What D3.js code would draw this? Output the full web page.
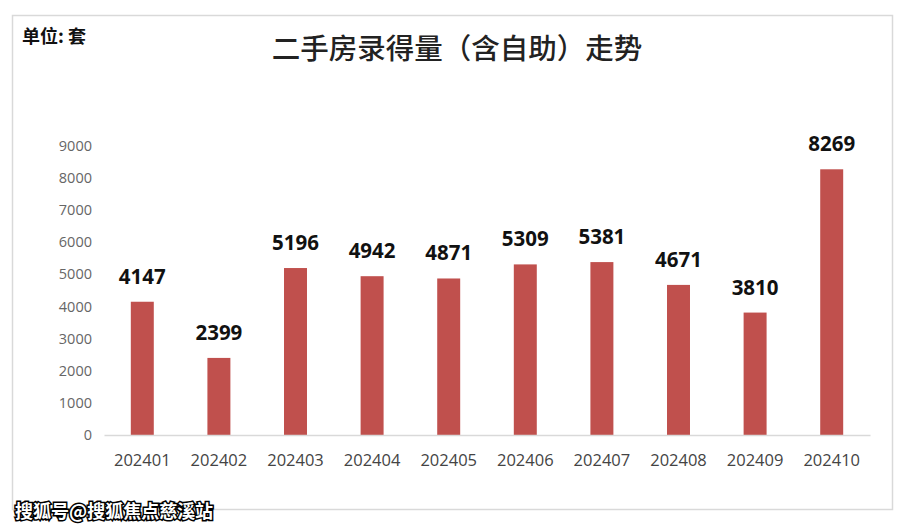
<!DOCTYPE html>
<html><head><meta charset="utf-8">
<script src="https://cdn.jsdelivr.net/npm/d3@7"></script>
<style>body{margin:0;background:#fff;}svg{display:block;}</style>
</head><body>
<svg id="c" width="909" height="529"></svg>
<script>
const categories = ["202401","202402","202403","202404","202405","202406","202407","202408","202409","202410"];
const values = [4147,2399,5196,4942,4871,5309,5381,4671,3810,8269];
const yTicks = [0,1000,2000,3000,4000,5000,6000,7000,8000,9000];
const titleText = "二手房录得量（含自助）走势";
const unitText = "单位: 套";
const watermark = "搜狐号@搜狐焦点慈溪站";

const svg = d3.select("#c");
svg.append("rect").attr("x",12.5).attr("y",15.5).attr("width",880).attr("height",494)
  .attr("fill","#fff").attr("stroke","#d9d9d9").attr("stroke-width",1.5);

const x = d3.scaleBand().domain(categories).range([104,870]).paddingInner(0.7).paddingOuter(0.35);
const y = d3.scaleLinear().domain([0,9000]).range([435,145.8]);

svg.append("text").attr("x",457).attr("y",59).attr("text-anchor","middle")
  .attr("font-family","Noto Sans CJK SC").attr("font-weight",500).attr("font-size",28.5).attr("fill","#222").text(titleText);
svg.append("text").attr("x",22).attr("y",43)
  .attr("font-family","Noto Sans CJK SC").attr("font-weight","bold").attr("font-size",18).attr("fill","#111").text(unitText);

// y axis
const ya = svg.append("g").attr("transform","translate(92,0)")
  .call(d3.axisLeft(y).tickValues(yTicks).tickFormat(d3.format("d")).tickSize(0).tickPadding(0));
ya.select(".domain").remove();
ya.selectAll("text").attr("font-family","Open Sans").attr("font-size",14.5).attr("fill","#666");

// bars
svg.append("g").selectAll("rect").data(values).join("rect")
  .attr("x",(d,i)=>x(categories[i])).attr("width",x.bandwidth())
  .attr("y",d=>y(d)).attr("height",d=>y(0)-y(d)).attr("fill","#C0504D");

// baseline + x axis
const xa = svg.append("g").attr("transform","translate(0,435)")
  .call(d3.axisBottom(x).tickSize(0).tickPadding(19));
xa.select(".domain").attr("stroke","#d9d9d9").attr("stroke-width",1.5);
xa.selectAll("text").attr("font-family","Open Sans").attr("font-size",16.5).attr("fill","#444");

// value labels
svg.append("g").selectAll("text").data(values).join("text")
  .attr("x",(d,i)=>x(categories[i])+x.bandwidth()/2).attr("y",d=>y(d)-18)
  .attr("text-anchor","middle").attr("font-family","Open Sans").attr("font-weight","bold")
  .attr("font-size",20.5).attr("fill","#111").text(d=>d);

// watermark
svg.append("text").attr("x",15).attr("y",518)
  .attr("font-family","Noto Sans CJK SC").attr("font-weight","bold").attr("font-size",18)
  .attr("fill","#fff").attr("stroke","#000").attr("stroke-width",3).attr("paint-order","stroke")
  .text(watermark);
</script>
</body></html>
